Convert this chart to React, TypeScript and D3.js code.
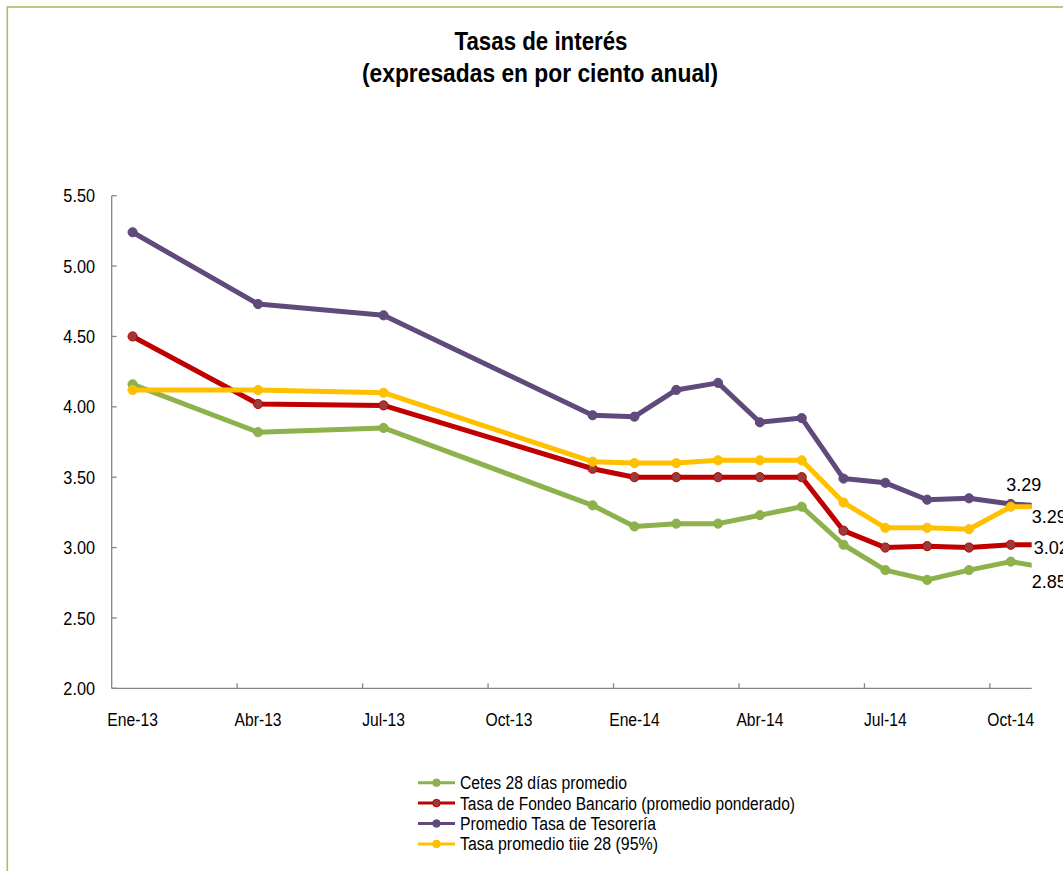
import React from "react";
import * as d3 from "d3";

const monthLabels = ["Ene-13", "Abr-13", "Jul-13", "Dic-13", "Ene-14", "Feb-14", "Mar-14", "Abr-14", "May-14", "Jun-14", "Jul-14", "Ago-14", "Sep-14", "Oct-14", "Nov-14"];
const monthIndex = [0, 3, 6, 11, 12, 13, 14, 15, 16, 17, 18, 19, 20, 21, 22];

const cetes = [4.16, 3.82, 3.85, 3.30, 3.15, 3.17, 3.17, 3.23, 3.29, 3.02, 2.84, 2.77, 2.84, 2.90, 2.85];
const fondeo = [4.50, 4.02, 4.01, 3.56, 3.50, 3.50, 3.50, 3.50, 3.50, 3.12, 3.00, 3.01, 3.00, 3.02, 3.02];
const tesoreria = [5.24, 4.73, 4.65, 3.94, 3.93, 4.12, 4.17, 3.89, 3.92, 3.49, 3.46, 3.34, 3.35, 3.31, 3.29];
const tiie = [4.12, 4.12, 4.10, 3.61, 3.60, 3.60, 3.62, 3.62, 3.62, 3.32, 3.14, 3.14, 3.13, 3.29, 3.29];

const axisTickLabels = ["Ene-13", "Abr-13", "Jul-13", "Oct-13", "Ene-14", "Abr-14", "Jul-14", "Oct-14"];
const axisTickMonths = [0, 3, 6, 9, 12, 15, 18, 21];
const yTicks = [2.0, 2.5, 3.0, 3.5, 4.0, 4.5, 5.0, 5.5];

const seriesNames = [
  "Cetes 28 días promedio",
  "Tasa de Fondeo Bancario (promedio ponderado)",
  "Promedio Tasa de Tesorería",
  "Tasa promedio tiie 28 (95%)",
];

const series = [
  { name: seriesNames[0], values: cetes, color: "#8DB14B", marker: "#8DB14B", labelDx: 0, labelDy: 13, anchor: "start" },
  { name: seriesNames[1], values: fondeo, color: "#C00000", marker: "#9B3A3A", labelDx: 2, labelDy: 3, anchor: "start" },
  { name: seriesNames[2], values: tesoreria, color: "#604A7B", marker: "#604A7B", labelDx: -8, labelDy: -22, anchor: "middle" },
  { name: seriesNames[3], values: tiie, color: "#FFC000", marker: "#FFC000", labelDx: 0, labelDy: 10, anchor: "start" },
];

const legendWidths = [167, 335, 196, 198];

const FONT = "'Liberation Sans Narrow', 'Arial Narrow', 'Liberation Sans', Arial, sans-serif";

export default function App() {
  const W = 1063;
  const H = 871;
  const x = d3.scaleLinear().domain([0, 22]).range([111.7, 1031.7]);
  const y = d3.scaleLinear().domain([2, 5.5]).range([688.3, 195.7]);
  const px = (m: number) => x(m + 0.5);

  const line = d3
    .line<number>()
    .x((_, i) => px(monthIndex[i]))
    .y((v) => y(v));

  const lastIdx = monthIndex.length - 1;
  const labelX = x(22);

  return (
    <svg width={W} height={H} style={{ position: "absolute", left: 0, top: 0, background: "#fff" }}>
      <defs>
        <clipPath id="plot">
          <rect x={x(0) - 10} y={150} width={x(22) - x(0) + 10} height={560} />
        </clipPath>
      </defs>
      <rect x={7.3} y={7} width={W + 20} height={H + 20} fill="none" stroke="#A3C06A" strokeWidth={1.6} />

      <text x={541} y={50} textAnchor="middle" fontFamily={FONT} fontWeight="bold" fontSize={26} fill="#000" textLength={173} lengthAdjust="spacingAndGlyphs">
        Tasas de interés
      </text>
      <text x={540} y={82} textAnchor="middle" fontFamily={FONT} fontWeight="bold" fontSize={26} fill="#000" textLength={356} lengthAdjust="spacingAndGlyphs">
        (expresadas en por ciento anual)
      </text>

      {/* y axis */}
      <line x1={x(0)} x2={x(0)} y1={y(5.5)} y2={y(2)} stroke="#868686" strokeWidth={1.3} />
      {yTicks.map((t) => (
        <g key={t}>
          <line x1={x(0)} x2={x(0) + 5} y1={y(t)} y2={y(t)} stroke="#868686" strokeWidth={1.3} />
          <text transform={`translate(95,${y(t)}) scale(0.88,1)`} dy="0.36em" textAnchor="end" fontFamily={FONT} fontSize={18.5} fill="#000">
            {t.toFixed(2)}
          </text>
        </g>
      ))}

      {/* x axis */}
      <line x1={x(0)} x2={x(22)} y1={y(2)} y2={y(2)} stroke="#868686" strokeWidth={1.3} />
      {axisTickMonths.map((m, i) => (
        <g key={m}>
          {m > 0 && <line x1={x(m)} x2={x(m)} y1={y(2)} y2={y(2) - 5} stroke="#868686" strokeWidth={1.3} />}
          <text transform={`translate(${px(m)},726) scale(0.87,1)`} textAnchor="middle" fontFamily={FONT} fontSize={18} fill="#000">
            {axisTickLabels[i]}
          </text>
        </g>
      ))}

      {/* series */}
      <g clipPath="url(#plot)">
        {series.map((s) => (
          <g key={s.name}>
            <path d={line(s.values) || ""} fill="none" stroke={s.color} strokeWidth={5} strokeLinejoin="round" />
            {s.values.map((v, i) => (
              <circle key={i} cx={px(monthIndex[i])} cy={y(v)} r={4.6} fill={s.marker} stroke={s.color} strokeWidth={1} />
            ))}
          </g>
        ))}
      </g>

      {/* end labels */}
      {series.map((s) => (
        <text
          key={s.name + "-lbl"}
          x={labelX + s.labelDx}
          y={y(s.values[lastIdx]) + s.labelDy}
          dy="0.36em"
          textAnchor={s.anchor as any}
          fontFamily="'Liberation Sans', Arial, sans-serif"
          fontSize={18}
          fill="#000"
        >
          {s.values[lastIdx].toFixed(2)}
        </text>
      ))}

      {/* legend */}
      {series.map((s, i) => {
        const ly = 782.7 + i * 20.4;
        return (
          <g key={s.name + "-leg"}>
            <line x1={418} x2={455} y1={ly} y2={ly} stroke={s.color} strokeWidth={3} />
            <circle cx={436.5} cy={ly} r={3.8} fill={s.marker} stroke={s.color} strokeWidth={1} />
            <text x={460} y={ly} dy="0.36em" fontFamily={FONT} fontSize={18} fill="#000" textLength={legendWidths[i]} lengthAdjust="spacingAndGlyphs">
              {s.name}
            </text>
          </g>
        );
      })}
    </svg>
  );
}
